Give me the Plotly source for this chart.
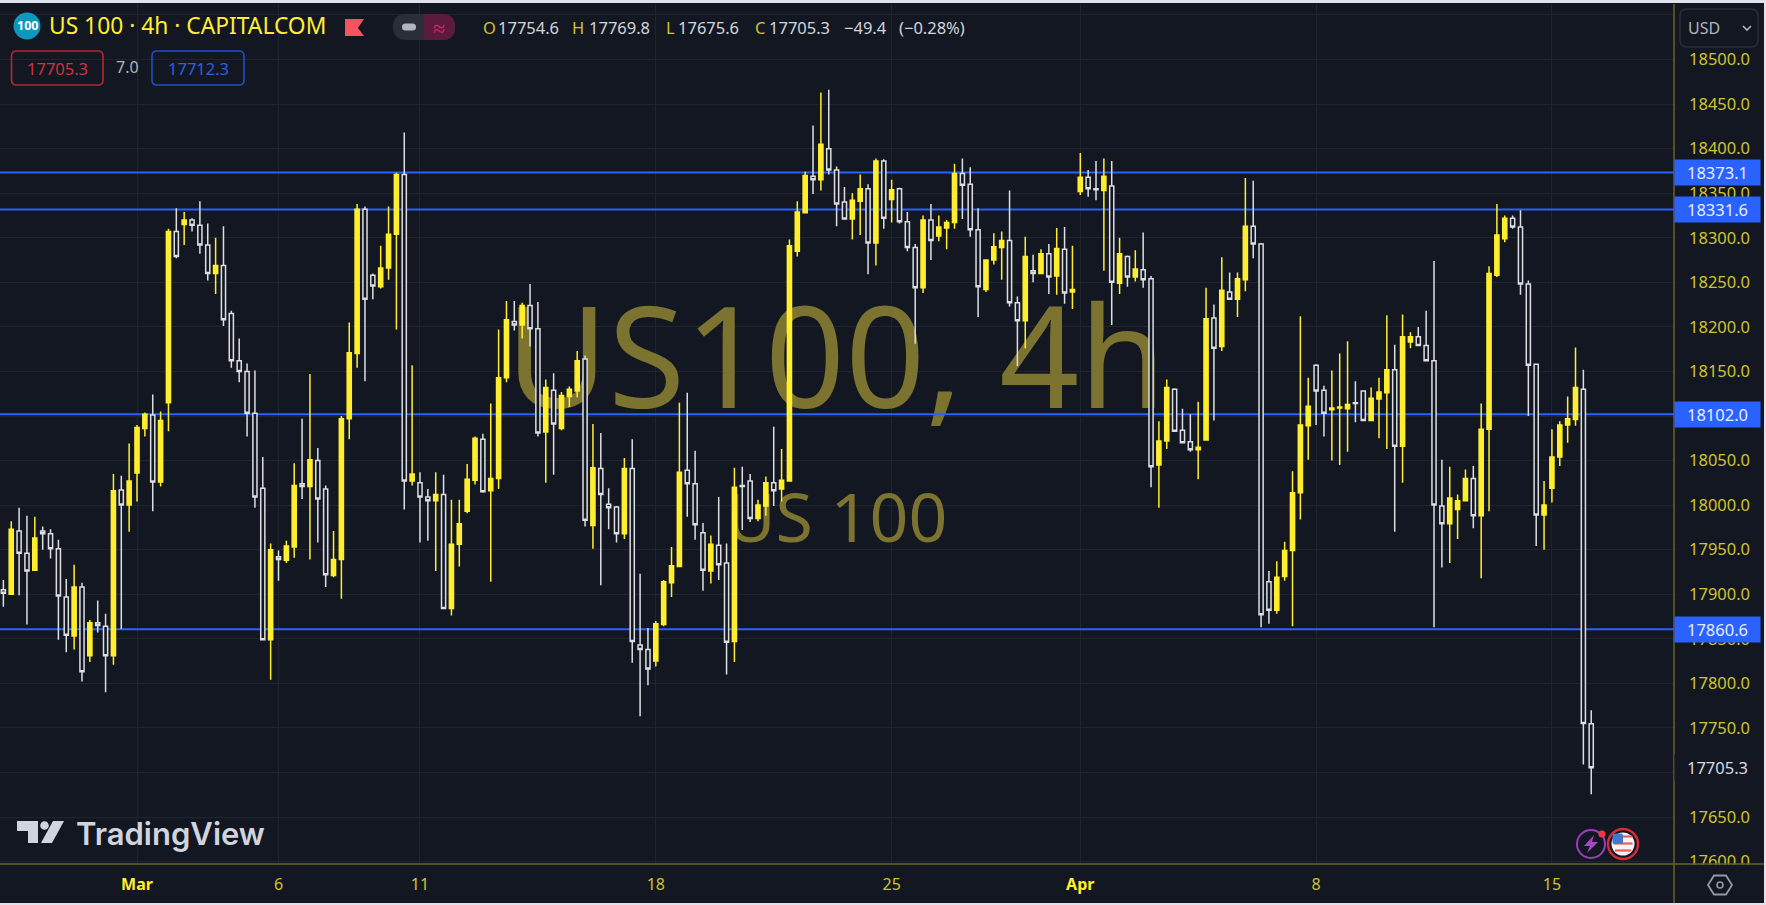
import plotly.graph_objects as go

bars = list(range(203))
opens = [17905,17900,17971,17946,17927,17971,17968,17951,17897,17853,17908,17831,17868,17864,17831,18017,18000,18036,18086,18101,
18026,18115,18307,18315,18320,18314,18292,18260,18269,18215,18162,18150,18103,18019,17849,17942,17938,17953,18024,18021,
18050,18018,17921,17939,18097,18170,18332,18258,18245,18266,18304,18371,18027,18025,18009,18005,18012,17884,17956,17993,
18028,18074,18016,18030,18143,18206,18202,18224,18198,18082,18129,18086,18122,18128,18164,17977,18041,18001,17998,17968,
18041,17843,17838,17825,17866,17913,17931,18039,18024,17969,17926,17955,17935,17847,18022,18027,17985,17999,18025,18018,
18027,18285,18328,18369,18365,18400,18376,18340,18321,18341,18355,18294,18386,18343,18355,18318,18289,18244,18320,18302,
18311,18317,18372,18360,18309,18242,18275,18289,18297,18227,18207,18263,18260,18282,18257,18287,18239,18352,18368,18355,
18353,18358,18249,18279,18256,18264,18254,18045,18072,18130,18084,18071,18062,18073,18210,18178,18239,18231,18253,18313,
18293,17914,17882,17920,17949,18014,18089,18157,18129,18107,18109,18108,18115,18128,18095,18119,18126,18152,18066,18183,
18189,18179,18162,17999,17979,17995,18005,18030,17988,18085,18258,18299,18322,18312,18248,18158,17989,18019,18054,18090,
18096,18130,17754.6]
highs = [17916,17982,17997,17988,17987,17976,17973,17961,17917,17933,17913,17871,17893,17878,18035,18033,18069,18090,18104,18124,
18105,18310,18333,18329,18322,18341,18316,18300,18313,18218,18187,18159,18151,18054,17957,17949,17960,18047,18097,18147,
18064,18022,17971,18100,18205,18338,18335,18260,18291,18335,18373,18418,18157,18037,18018,18037,18034,18006,18006,18046,
18077,18080,18114,18197,18229,18229,18227,18248,18228,18141,18148,18127,18133,18173,18168,18091,18081,18019,17999,18053,
18074,17923,17862,17870,17916,17953,18115,18126,18061,17980,17966,18009,17957,18042,18043,18035,18006,18032,18088,18063,
18298,18341,18374,18426,18463,18466,18380,18357,18350,18371,18360,18389,18388,18365,18356,18329,18293,18325,18338,18325,
18320,18383,18389,18379,18333,18276,18305,18307,18353,18234,18301,18281,18287,18293,18311,18312,18291,18395,18376,18386,
18389,18386,18300,18280,18286,18306,18257,18094,18141,18131,18108,18102,18116,18244,18225,18278,18261,18261,18367,18364,
18294,17926,17937,17959,18038,18212,18143,18158,18134,18151,18170,18184,18139,18129,18132,18143,18213,18180,18214,18194,
18200,18218,18274,18051,18043,18012,18040,18044,18114,18268,18338,18325,18325,18331,18252,18159,18027,18085,18094,18122,
18177,18152,17769.8]
lows = [17886,17900,17899,17866,17927,17950,17940,17849,17835,17838,17802,17824,17857,17790,17821,17861,17970,18004,18077,17993,
18021,18083,18277,18292,18307,18282,18252,18237,18201,18154,18138,18077,17997,17848,17804,17915,17935,17941,18007,17939,
17958,17908,17919,17895,18074,18154,18139,18231,18243,18253,18197,17995,18022,17958,17960,17926,17884,17876,17931,17991,
18023,18014,17914,18018,18138,18196,18187,18178,18077,18025,18034,18084,18110,18121,17976,17951,17910,17973,17958,17962,
17823,17763,17798,17819,17864,17897,17931,17987,17961,17904,17912,17916,17810,17824,17972,17981,17982,17988,17999,18004,
18027,18279,18328,18349,18353,18371,18313,18321,18298,18303,18259,18269,18310,18317,18316,18285,18181,18238,18275,18296,
18287,18310,18321,18301,18211,18239,18270,18253,18223,18156,18176,18250,18259,18237,18236,18226,18220,18348,18346,18342,
18263,18202,18237,18245,18251,18244,18020,17997,18063,18083,18069,18060,18029,18073,18095,18173,18231,18211,18240,18277,
17863,17867,17878,17915,17864,17984,18051,18090,18077,18050,18045,18060,18093,18095,18095,18075,18063,17970,18025,18176,
18179,18162,17863,17930,17935,17962,18005,17974,17918,17993,18256,18295,18310,18236,18100,17954,17950,18003,18044,18070,
18089,17709,17675.6]
closes = [17901,17973,17946,17926,17963,17968,17951,17898,17854,17908,17813,17868,17865,17831,18016,18000,18027,18087,18102,18026,
18095,18307,18279,18320,18314,18292,18260,18269,18208,18162,18150,18103,18009,17849,17950,17939,17954,18022,18021,18051,
18007,17922,17939,18097,18171,18332,18231,18246,18266,18304,18371,18027,18035,18009,18005,18012,17884,17956,17979,18029,
18075,18015,18030,18143,18208,18202,18224,18198,18081,18132,18091,18123,18130,18162,17983,18042,18012,17997,17968,18041,
17847,17838,17816,17867,17914,17932,18037,18024,17978,17927,17956,17933,17846,18020,18021,17985,18000,18025,18016,18028,
18291,18329,18370,18365,18405,18376,18338,18321,18342,18355,18294,18386,18322,18354,18318,18289,18244,18320,18297,18312,
18317,18372,18359,18309,18245,18275,18290,18297,18227,18207,18279,18260,18282,18256,18288,18238,18242,18368,18355,18354,
18369,18250,18282,18256,18265,18253,18043,18072,18132,18083,18070,18062,18065,18209,18176,18241,18231,18254,18313,18293,
17877,17882,17919,17949,18014,18090,18111,18128,18103,18109,18110,18113,18114,18095,18120,18127,18152,18066,18189,18189,
18179,18162,18000,17979,18008,18005,18030,17988,18085,18260,18303,18322,18312,18248,18157,17989,18000,18054,18090,18097,
18132,17755,17705.3]

levels = [18373.1, 18331.6, 18102.0, 17860.6]
price_ticks = [17600 + 50 * k for k in range(20)]
hidden_price_ticks = [17700, 18550]
date_bars = [17, 35, 53, 83, 113, 137, 167, 197]
date_labels = ["Mar", "6", "11", "18", "25", "Apr", "8", "15"]
strong_dates = {"Mar", "Apr"}

W, H = 1766, 905
PL_R, PL_T, PL_B = 1674, 4, 864
BG = "#131722"
YEL = "#ffee30"
DIM = "#cfc32e"
AXC = "#6a6327"
GRID = "#20242f"
BLUE = "#2962ff"
X_RANGE = [-0.43, 212.53]
Y_RANGE = [17597.3, 18562.3]
FONT = "Noto Sans"

def px(x):
    return x / PL_R
def py(y):
    return 1 - (y - PL_T) / (PL_B - PL_T)
def P(x, y):
    return f"{px(x):.6f},{py(y):.6f}"

shapes = []
def path(pts, fill=None, line=None, lw=0, close=True):
    d = "M" + " L".join(P(*p) for p in pts) + (" Z" if close else "")
    shapes.append(dict(type="path", xref="paper", yref="paper", path=d, fillcolor=fill or "rgba(0,0,0,0)",
                       line=dict(color=line or "rgba(0,0,0,0)", width=lw), layer="above"))
def rrect(x0, y0, x1, y1, r, fill=None, line=None, lw=0):
    d = (f"M{P(x0+r,y0)} L{P(x1-r,y0)} Q{P(x1,y0)} {P(x1,y0+r)} L{P(x1,y1-r)} Q{P(x1,y1)} {P(x1-r,y1)} "
         f"L{P(x0+r,y1)} Q{P(x0,y1)} {P(x0,y1-r)} L{P(x0,y0+r)} Q{P(x0,y0)} {P(x0+r,y0)} Z")
    shapes.append(dict(type="path", xref="paper", yref="paper", path=d, fillcolor=fill or "rgba(0,0,0,0)",
                       line=dict(color=line or "rgba(0,0,0,0)", width=lw), layer="above"))
def circle(cx, cy, r, fill=None, line=None, lw=0):
    shapes.append(dict(type="circle", xref="paper", yref="paper", x0=px(cx-r), x1=px(cx+r), y0=py(cy+r), y1=py(cy-r),
                       fillcolor=fill or "rgba(0,0,0,0)", line=dict(color=line or "rgba(0,0,0,0)", width=lw), layer="above"))
def rect(x0, y0, x1, y1, fill):
    shapes.append(dict(type="rect", xref="paper", yref="paper", x0=px(x0), x1=px(x1), y0=py(y1), y1=py(y0),
                       fillcolor=fill, line=dict(width=0), layer="above"))

# axis frame: the lowest price label is cut off by the time axis
rect(PL_R, 864.5, W, 872, BG)
path([(0, 864), (W, 864)], line=AXC, lw=1.5, close=False)
path([(PL_R, PL_T), (PL_R, 903)], line=AXC, lw=1.5, close=False)
# page edge
rect(0, 0, W, 3, "#e0e3eb")
rect(0, 903, W, 905, "#e0e3eb")
rect(1764, 0, W, 905, "#e0e3eb")
# header
circle(27, 26, 13.5, fill="#0e97bd")
path([(345, 19), (364, 19), (358, 28), (364, 36), (345, 36)], fill="#f7525f")
rrect(393, 14, 455, 40, 13, fill="#2a2e39")
d = (f"M{P(424,14)} L{P(442,14)} Q{P(455,14)} {P(455,27)} Q{P(455,40)} {P(442,40)} L{P(424,40)} Z")
shapes.append(dict(type="path", xref="paper", yref="paper", path=d, fillcolor="#5c1a3c", line=dict(width=0), layer="above"))
rrect(402, 23.5, 416, 30.5, 3.5, fill="#b2b5be")
rrect(11.5, 51, 103, 85, 5, line="#b22833", lw=1.6)
rrect(152, 51, 244, 85, 5, line="#1f4fc8", lw=1.6)
rrect(1680, 9, 1758, 47, 7, line="#2a2e39", lw=1.5)
path([(1743, 26), (1747, 30), (1751, 26)], line="#b2b5be", lw=1.6, close=False)
# TradingView mark
path([(17, 821), (38, 821), (38, 843), (28, 843), (28, 831), (17, 831)], fill="#d1d4dc")
circle(44.5, 825.5, 4.3, fill="#d1d4dc")
path([(53, 821), (64, 821), (52, 843), (41, 843)], fill="#d1d4dc")
# event icons
circle(1591, 844, 14, line="#9c3fb8", lw=2)
path([(1594, 835), (1584, 846), (1590, 846), (1587, 853), (1598, 842), (1592, 842)], fill="#a845c8")
circle(1602, 834, 3.6, fill="#f23645")
circle(1623, 844, 15, fill=BG, line="#d62b3a", lw=2.4)
circle(1623, 844, 11.5, fill="#f4f4f6")
for yy in (836.5, 843.5, 850.5):
    path([(1613.5 if yy != 850.5 else 1615, yy), (1632.5 if yy != 850.5 else 1631, yy)], line="#ef5a5f", lw=2.2, close=False)
rrect(1612.5, 833.5, 1623, 844, 2, fill="#3f78cf")
# settings hexagon
path([(1708, 885), (1714, 875.5), (1726, 875.5), (1732, 885), (1726, 894.5), (1714, 894.5)], line="#9598a1", lw=1.8)
circle(1720, 885, 3, line="#9598a1", lw=1.6)

annotations = []
def txt(x, y, s, color, size=16.5, anchor="left", family=FONT, weight=None):
    f = dict(color=color, size=size, family=family)
    if weight:
        f["weight"] = weight
    annotations.append(dict(xref="paper", yref="paper", x=px(x), y=py(y), text=s, showarrow=False, xanchor=anchor,
                            yanchor="middle", font=f))
def tag(level, s, color, bg, yref="y"):
    annotations.append(dict(xref="paper", yref=yref, x=1.0, y=level, text=s, showarrow=False, xanchor="left", yanchor="middle",
                            width=83, height=23, bgcolor=bg, align="center", borderpad=1,
                            font=dict(color=color, size=16.5, family=FONT)))

txt(27, 26, "<b>100</b>", "#ffffff", 12.5, "center")
txt(47, 26, "US 100 · 4h · CAPITALCOM", YEL, 22.8)
txt(439, 27, "≈", "#e91e63", 22, "center")
txt(481, 27.5, "O", DIM)
txt(496, 27.5, "17754.6", "#d1d4dc")
txt(570, 27.5, "H", DIM)
txt(587, 27.5, "17769.8", "#d1d4dc")
txt(664, 27.5, "L", DIM)
txt(676, 27.5, "17675.6", "#d1d4dc")
txt(753, 27.5, "C", DIM)
txt(767, 27.5, "17705.3", "#d1d4dc")
txt(842, 27.5, "−49.4", "#d1d4dc")
txt(897, 27.5, "(−0.28%)", "#d1d4dc")
txt(57, 68, "17705.3", "#d3303e", 16.5, "center")
txt(127.5, 67, "7.0", "#b2b5be", 16, "center")
txt(198, 68, "17712.3", "#2a5fe0", 16.5, "center")
txt(1686, 28, "USD", "#b2b5be", 16)
txt(74, 833, "TradingView", "#d1d4dc", 31, "left", "Inter", 600)

for lv in levels:
    tag(lv, f"{lv:.1f}", "#e6ecff", BLUE)
tag(closes[-1], f"{closes[-1]:.1f}", "#d8dae0", BG)

fig = go.Figure()
# watermark and level lines live on the base subplot so that candles stay on top of them
fig.add_trace(go.Scatter(x=[105.9, 106.0], y=[18148, 17978], mode="text", text=["US100, 4h", "US 100"],
                         textposition="middle center", hoverinfo="skip", showlegend=False,
                         textfont=dict(size=[140, 68], color="#7b732f", family=FONT), cliponaxis=False))
for lv in levels:
    fig.add_trace(go.Scatter(x=X_RANGE, y=[lv, lv], mode="lines", line=dict(color=BLUE, width=2),
                             hoverinfo="skip", showlegend=False))
fig.add_trace(go.Candlestick(x=bars, open=opens, high=highs, low=lows, close=closes, xaxis="x2", yaxis="y2",
                             increasing=dict(line=dict(color=YEL, width=1.5), fillcolor=YEL),
                             decreasing=dict(line=dict(color="#dcdee3", width=1.5), fillcolor=BG),
                             whiskerwidth=0, showlegend=False, hoverinfo="skip"))

def date_text(s):
    if s in strong_dates:
        return f'<b><span style="color:{YEL}">{s}</span></b>'
    return s

fig.update_layout(
    width=W, height=H, autosize=False,
    margin=dict(l=0, r=W - PL_R, t=PL_T, b=H - PL_B, pad=0),
    paper_bgcolor=BG, plot_bgcolor=BG, showlegend=False, boxgap=0.25,
    xaxis=dict(range=X_RANGE, tickvals=date_bars, ticktext=[date_text(s) for s in date_labels], tickfont=dict(color=DIM, size=16, family=FONT),
               showgrid=True, gridcolor=GRID, gridwidth=1, zeroline=False, showline=False, ticks="", ticklabelstandoff=9,
               rangeslider=dict(visible=False), fixedrange=True, tickangle=0),
    yaxis=dict(range=Y_RANGE, side="right", tickvals=price_ticks,
               ticktext=["" if v in hidden_price_ticks else f"{v:.1f}" for v in price_ticks],
               tickfont=dict(color=DIM, size=16.5, family=FONT), showgrid=True, gridcolor=GRID, gridwidth=1, zeroline=False, showline=False,
               ticks="", ticklabelstandoff=14, fixedrange=True),
    xaxis2=dict(range=X_RANGE, overlaying="x", anchor="y2", visible=False, rangeslider=dict(visible=False), fixedrange=True),
    yaxis2=dict(range=Y_RANGE, overlaying="y", anchor="x2", side="right", visible=False, fixedrange=True),
    shapes=shapes, annotations=annotations,
)
fig.write_html("out.html", config=dict(displayModeBar=False),
               post_script="document.body.style.margin='0';document.body.style.overflow='hidden';")
